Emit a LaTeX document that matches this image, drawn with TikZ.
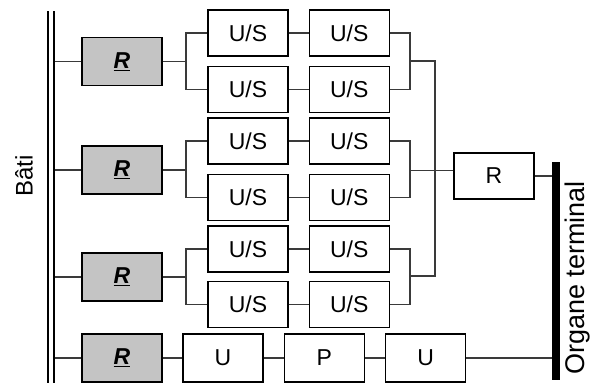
\documentclass[tikz,border=0pt]{standalone}
\usepackage{fontspec}
\setmainfont{Liberation Sans}
\usetikzlibrary{positioning}
\definecolor{boxgrey}{RGB}{196,196,196}
\definecolor{wiregrey}{RGB}{58,58,58}

\begin{document}
\begin{tikzpicture}[x=1pt, y=-1pt, font=\fontsize{23}{27}\selectfont,
 blk/.style={draw, line width=1.3pt, fill=white, minimum width=80pt, minimum height=46pt, inner sep=0pt},
 rbox/.style={blk, fill=boxgrey, minimum height=48pt},
 wire/.style={line width=1.5pt, draw=wiregrey},
 lbl/.style={rotate=90, inner sep=0pt}]
 \useasboundingbox (0,0) rectangle (595,383);

 % --- Rotules sur le bati ---
 \node[rbox] (r1) at (122,61.5) {\textbf{\textit{\underline{R}}}};
 \node[rbox] (r2) at (122,170) {\textbf{\textit{\underline{R}}}};
 \node[rbox] (r3) at (122,277) {\textbf{\textit{\underline{R}}}};
 \node[rbox] (r4) at (122,358) {\textbf{\textit{\underline{R}}}};

 % --- Branches U/S en parallele ---
 \node[blk] (a1) at (248,33) {U/S};
 \node[blk, right=20pt of a1] (a2) {U/S};
 \node[blk] (b1) at (248,89.5) {U/S};
 \node[blk, right=20pt of b1] (b2) {U/S};
 \node[blk] (c1) at (248,141) {U/S};
 \node[blk, right=20pt of c1] (c2) {U/S};
 \node[blk] (d1) at (248,197.5) {U/S};
 \node[blk, right=20pt of d1] (d2) {U/S};
 \node[blk] (e1) at (248,249) {U/S};
 \node[blk, right=20pt of e1] (e2) {U/S};
 \node[blk] (g1) at (248,304.5) {U/S};
 \node[blk, right=20pt of g1] (g2) {U/S};

 % --- Chaine du bas ---
 \node[blk, minimum height=48pt] (u1) at (223,358) {U};
 \node[blk, minimum height=48pt, right=20pt of u1] (p) {P};
 \node[blk, minimum height=48pt, right=20pt of p] (u2) {U};

 \node[blk] (rf) at (494,176) {R};

 % --- Bati et organe terminal ---
 \coordinate (btop) at (51,11);
 \coordinate (bbot) at (51,383);
 \node[fill=black, minimum width=8pt, minimum height=218pt, inner sep=0pt] (term) at (556,271) {};
 \node[lbl, font=\fontsize{24}{28}\selectfont] (bati) at (24,176) {Bâti};
 \node[lbl, font=\fontsize{27}{31}\selectfont] (organe) at (578,278) {Organe terminal};

 % bati -> rotules
 \draw[wire] (r1.west) -- (r1.west -| btop);
 \draw[wire] (r2.west) -- (r2.west -| btop);
 \draw[wire] (r3.west) -- (r3.west -| btop);
 \draw[wire] (r4.west) -- (r4.west -| btop);

 % fourches d'entree
 \coordinate (f1) at (186,61.5);
 \coordinate (f2) at (186,170);
 \coordinate (f3) at (186,277);
 \draw[wire] (r1) -- (f1);
 \draw[wire] (r2) -- (f2);
 \draw[wire] (r3) -- (f3);
 \draw[wire] (a1.west) -| (f1) |- (b1.west);
 \draw[wire] (c1.west) -| (f2) |- (d1.west);
 \draw[wire] (e1.west) -| (f3) |- (g1.west);

 \draw[wire] (a1) -- (a2);
 \draw[wire] (b1) -- (b2);
 \draw[wire] (c1) -- (c2);
 \draw[wire] (d1) -- (d2);
 \draw[wire] (e1) -- (e2);
 \draw[wire] (g1) -- (g2);

 % jonctions de sortie
 \coordinate (j1) at (410,61);
 \coordinate (j2) at (410,170.5);
 \coordinate (j3) at (410,276);
 \draw[wire] (a2.east) -| (j1) |- (b2.east);
 \draw[wire] (c2.east) -| (j2) |- (d2.east);
 \draw[wire] (e2.east) -| (j3) |- (g2.east);
 \coordinate (s1) at (435,61);
 \coordinate (s3) at (435,276);
 \draw[wire] (j1) -- (s1) -- (s3) -- (j3);
 \draw[wire] (j2) -- (j2 -| rf.west);
 \draw[wire] (rf.east) -- (rf.east -| term.west);

 % chaine U-P-U
 \draw[wire] (r4) -- (u1);
 \draw[wire] (u1) -- (p);
 \draw[wire] (p) -- (u2);
 \draw[wire] (u2.east) -- (u2.east -| term.west);

 \draw[line width=2pt, double=white, double distance=3.5pt] (btop) -- (bbot);
\end{tikzpicture}
\end{document}
